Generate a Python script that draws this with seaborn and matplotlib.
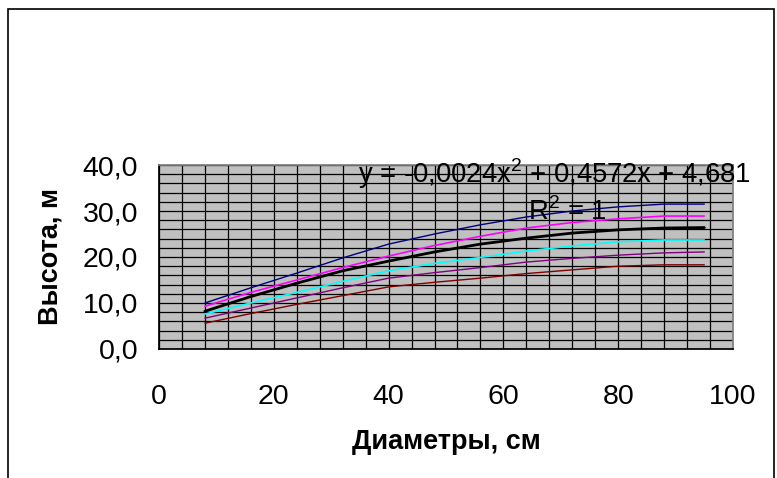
import numpy as np
import pandas as pd
import seaborn as sns
import matplotlib.pyplot as plt
from matplotlib.ticker import MultipleLocator, FuncFormatter
from matplotlib.patches import Rectangle

# diameters, cm
diam = [8, 16, 24, 32, 40, 48, 56, 64, 72, 80, 88, 95]

# heights, m
h_navy = [10.0, 13.3, 16.5, 19.8, 22.8, 25.0, 27.0, 28.7, 30.0, 30.9, 31.5, 31.5]
h_magenta = [9.3, 12.3, 15.0, 17.7, 20.2, 22.5, 24.5, 26.3, 27.5, 28.3, 28.9, 28.9]
h_mean = [8.2, 11.4, 14.3, 17.0, 19.1, 21.1, 22.8, 24.1, 25.2, 25.9, 26.3, 26.4]
h_cyan = [7.6, 10.0, 12.3, 14.7, 17.0, 18.6, 19.9, 21.3, 22.4, 23.3, 23.7, 23.7]
h_purple = [6.7, 8.9, 11.1, 13.3, 15.4, 16.6, 17.7, 18.9, 19.7, 20.4, 20.9, 21.1]
h_red = [5.6, 7.7, 9.7, 11.6, 13.5, 14.5, 15.4, 16.4, 17.2, 18.0, 18.3, 18.3]

eq_text = "y = -0,0024x$^{2}$ + 0,4572x + 4,681"
r2_text = "R$^{2}$ = 1"

sns.set_theme(style="white")
plt.rcParams['font.family'] = ['Liberation Sans', 'DejaVu Sans']
plt.rcParams['mathtext.fontset'] = 'custom'
plt.rcParams['mathtext.rm'] = 'Liberation Sans'
for k in ['text.color', 'axes.labelcolor', 'xtick.color', 'ytick.color']:
    plt.rcParams[k] = 'black'

fig = plt.figure(figsize=(7.77, 4.78), dpi=100)
ax = fig.add_axes([0.2046, 0.2699, 0.7388, 0.3849])
ax.set_facecolor('#C0C0C0')

series = [(h_navy, '#000080', 1.0), (h_magenta, '#FF00FF', 1.2),
          (h_cyan, '#00FFFF', 1.2), (h_purple, '#800080', 1.0),
          (h_red, '#800000', 1.0), (h_mean, 'black', 2.0)]
for vals, col, lw in series:
    sns.lineplot(x=diam, y=vals, color=col, lw=lw, ax=ax, zorder=3)

ax.set_xlim(0, 100)
ax.set_ylim(0, 40)
ax.xaxis.set_major_locator(MultipleLocator(20))
ax.xaxis.set_minor_locator(MultipleLocator(4))
ax.yaxis.set_major_locator(MultipleLocator(10))
ax.yaxis.set_minor_locator(MultipleLocator(2))
ax.yaxis.set_major_formatter(FuncFormatter(lambda v, p: f"{v:.1f}".replace('.', ',')))
ax.grid(which='both', color='black', lw=0.9)
ax.set_axisbelow(True)
ax.tick_params(which='major', direction='out', length=7, width=1, color='black',
               labelsize=20.5)
ax.tick_params(axis='y', pad=8)
ax.tick_params(axis='x', pad=18)
ax.tick_params(which='minor', length=0)
for s in ['top', 'right']:
    ax.spines[s].set_color('#808080')
for s in ['left', 'bottom']:
    ax.spines[s].set_color('black')

ax.set_xlabel('Диаметры, см', fontsize=19.5, fontweight='bold', labelpad=14)
ax.set_ylabel('Высота, м', fontsize=19.5, fontweight='bold', labelpad=14)

fig.text(0.461, 0.618, eq_text, fontsize=19.8, ha='left', va='baseline')
fig.text(0.68, 0.54, r2_text, fontsize=19.8, ha='left', va='baseline')

fig.patches.append(Rectangle((0.0103, -0.05), 0.9858, 1.031, transform=fig.transFigure,
                             fill=False, edgecolor='black', lw=1.2))

fig.savefig('out.png', dpi=100)
